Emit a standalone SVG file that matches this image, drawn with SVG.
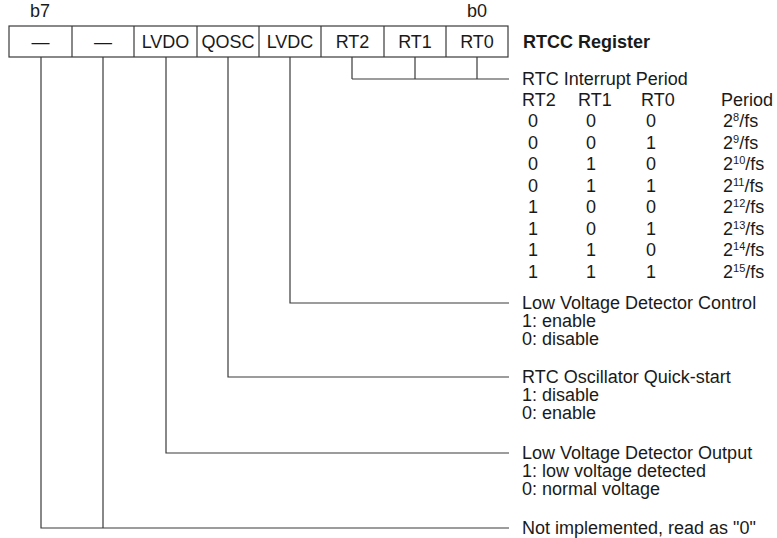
<svg xmlns="http://www.w3.org/2000/svg" width="777" height="538" viewBox="0 0 777 538">
<style>
text{font-family:"Liberation Sans",Arial,sans-serif;font-size:18px;fill:#1a1a1a}
.b{font-weight:bold}
.c{text-anchor:middle}
.sup{font-size:11px}
.ln{stroke:#3a3a3a;stroke-width:1.2;fill:none}
.cell{stroke:#3a3a3a;stroke-width:1.2;fill:#fff}
</style>
<rect width="777" height="538" fill="#fff"/>
<text x="30" y="17">b7</text>
<text x="467" y="17">b0</text>
<g id="register">
<rect class="cell" x="9" y="26" width="499" height="31"/>
<path class="ln" d="M72 26V57M134 26V57M197 26V57M259 26V57M321 26V57M384 26V57M446 26V57"/>
<g id="bit7"><text class="c" x="40.5" y="48">—</text></g>
<g id="bit6"><text class="c" x="103" y="48">—</text></g>
<g id="bit5"><text class="c" x="165.5" y="48">LVDO</text></g>
<g id="bit4"><text class="c" x="228" y="48">QOSC</text></g>
<g id="bit3"><text class="c" x="290" y="48">LVDC</text></g>
<g id="bit2"><text class="c" x="352.5" y="48">RT2</text></g>
<g id="bit1"><text class="c" x="415" y="48">RT1</text></g>
<g id="bit0"><text class="c" x="477" y="48">RT0</text></g>
</g>
<text class="b" x="523" y="48">RTCC Register</text>
<g id="connectors">
<path class="ln" d="M352 57V79M415 57V79M477 57V79M352 79H509"/>
<path class="ln" d="M290 57V303H509"/>
<path class="ln" d="M228 57V377H509"/>
<path class="ln" d="M166 57V453H509"/>
<path class="ln" d="M41 57V528H509M103 57V528"/>
</g>
<g id="rtc-period">
<text x="522" y="85">RTC Interrupt Period</text>
<text x="522" y="106">RT2</text><text x="578" y="106">RT1</text><text x="641" y="106">RT0</text><text x="721" y="106">Period</text>
<g>
<text x="528" y="127">0</text><text x="586" y="127">0</text><text x="646" y="127">0</text><text x="723" y="127">2<tspan class="sup" dy="-6">8</tspan><tspan dy="6">/fs</tspan></text>
<text x="528" y="148.5">0</text><text x="586" y="148.5">0</text><text x="646" y="148.5">1</text><text x="723" y="148.5">2<tspan class="sup" dy="-6">9</tspan><tspan dy="6">/fs</tspan></text>
<text x="528" y="170">0</text><text x="586" y="170">1</text><text x="646" y="170">0</text><text x="723" y="170">2<tspan class="sup" dy="-6">10</tspan><tspan dy="6">/fs</tspan></text>
<text x="528" y="191.5">0</text><text x="586" y="191.5">1</text><text x="646" y="191.5">1</text><text x="723" y="191.5">2<tspan class="sup" dy="-6">11</tspan><tspan dy="6">/fs</tspan></text>
<text x="528" y="213">1</text><text x="586" y="213">0</text><text x="646" y="213">0</text><text x="723" y="213">2<tspan class="sup" dy="-6">12</tspan><tspan dy="6">/fs</tspan></text>
<text x="528" y="234.5">1</text><text x="586" y="234.5">0</text><text x="646" y="234.5">1</text><text x="723" y="234.5">2<tspan class="sup" dy="-6">13</tspan><tspan dy="6">/fs</tspan></text>
<text x="528" y="256">1</text><text x="586" y="256">1</text><text x="646" y="256">0</text><text x="723" y="256">2<tspan class="sup" dy="-6">14</tspan><tspan dy="6">/fs</tspan></text>
<text x="528" y="277.5">1</text><text x="586" y="277.5">1</text><text x="646" y="277.5">1</text><text x="723" y="277.5">2<tspan class="sup" dy="-6">15</tspan><tspan dy="6">/fs</tspan></text>
</g>
</g>
<g id="lvdc-desc">
<text x="522" y="309">Low Voltage Detector Control</text>
<text x="522" y="327">1: enable</text>
<text x="522" y="345">0: disable</text>
</g>
<g id="qosc-desc">
<text x="522" y="383">RTC Oscillator Quick-start</text>
<text x="522" y="401">1: disable</text>
<text x="522" y="419">0: enable</text>
</g>
<g id="lvdo-desc">
<text x="522" y="459">Low Voltage Detector Output</text>
<text x="522" y="477">1: low voltage detected</text>
<text x="522" y="495">0: normal voltage</text>
</g>
<g id="ni-desc">
<text x="522" y="534">Not implemented, read as "0"</text>
</g>
</svg>
